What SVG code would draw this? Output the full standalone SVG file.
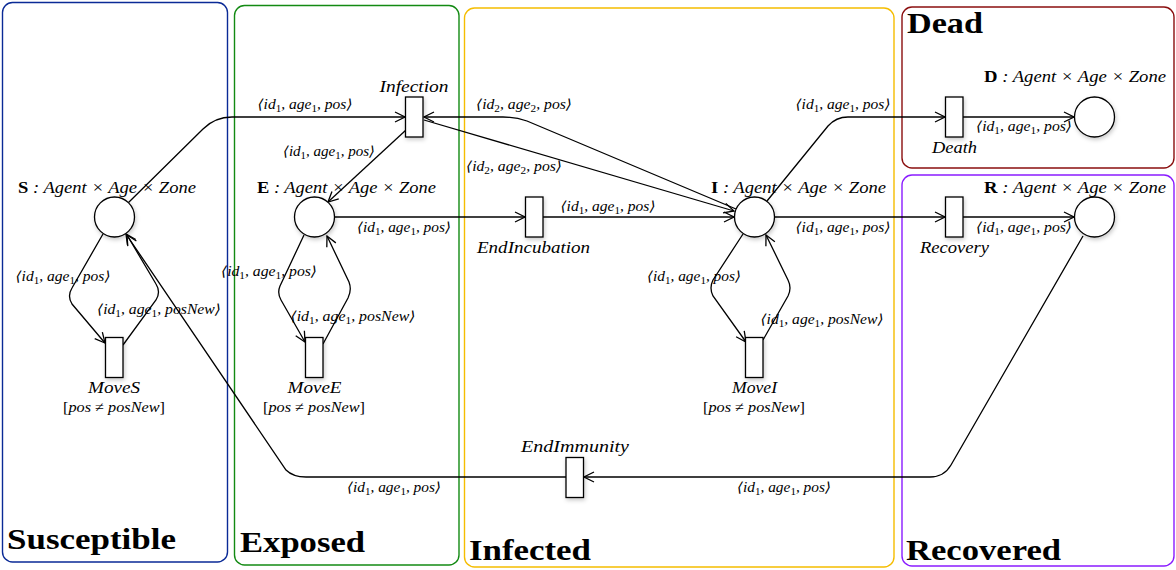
<svg xmlns="http://www.w3.org/2000/svg" width="1176" height="570" viewBox="0 0 1176 570">
<style>
.box{fill:none;stroke-width:1.4}
.title{font-family:"Liberation Serif","DejaVu Serif",serif;font-weight:bold;font-size:29px;fill:#000}
.pl{fill:#fff;stroke:#000;stroke-width:1.3;filter:url(#sh)}
.tr{fill:#fff;stroke:#000;stroke-width:1.3;filter:url(#sh)}
.ptxt{font-family:"Liberation Serif","DejaVu Serif",serif;font-style:italic;font-size:17px;fill:#000}
.b{font-style:normal;font-weight:bold}
.ttxt{font-family:"Liberation Serif","DejaVu Serif",serif;font-style:italic;font-size:16px;fill:#000;text-anchor:middle}
.guard{font-family:"Liberation Serif","DejaVu Serif",serif;font-style:italic;font-size:14px;fill:#000;text-anchor:middle}
.lab{font-family:"Liberation Serif","DejaVu Serif",serif;font-style:italic;font-size:14px;fill:#000;text-anchor:middle}
.s{font-size:10px;font-style:normal}
.arc{fill:none;stroke:#000;stroke-width:1.3;marker-end:url(#arr)}
</style>
<defs>
<filter id="sh" x="-60%" y="-60%" width="220%" height="220%">
<feDropShadow dx="1" dy="2" stdDeviation="2" flood-color="#000" flood-opacity="0.22"/>
</filter>
<marker id="arr" viewBox="-11 -6 12 12" refX="0" refY="0" markerWidth="12" markerHeight="12" markerUnits="userSpaceOnUse" orient="auto">
<path d="M-10,-5 L0,0 L-10,5" fill="none" stroke="#000" stroke-width="1.3"/>
</marker>
</defs>
<rect width="1176" height="570" fill="#fff"/>

<g id="regions">
<g id="susceptible">
<rect class="box" x="2.5" y="2.5" width="225" height="559.5" rx="10" stroke="#0a2a96"/>
<text class="title" x="7" y="549" textLength="169" lengthAdjust="spacingAndGlyphs">Susceptible</text>
</g>
<g id="exposed">
<rect class="box" x="234.5" y="5.5" width="224.5" height="559.5" rx="10" stroke="#138a13"/>
<text class="title" x="240" y="552" textLength="125" lengthAdjust="spacingAndGlyphs">Exposed</text>
</g>
<g id="infected">
<rect class="box" x="464.5" y="8" width="429.5" height="559" rx="10" stroke="#f5bd00"/>
<text class="title" x="469" y="560" textLength="122" lengthAdjust="spacingAndGlyphs">Infected</text>
</g>
<g id="dead">
<rect class="box" x="902" y="7" width="272" height="161" rx="10" stroke="#8b0f0f"/>
<text class="title" x="907" y="33" textLength="76" lengthAdjust="spacingAndGlyphs">Dead</text>
</g>
<g id="recovered">
<rect class="box" x="902" y="175" width="272" height="391" rx="10" stroke="#8a1cff"/>
<text class="title" x="906" y="560" textLength="155" lengthAdjust="spacingAndGlyphs">Recovered</text>
</g>
</g>

<g id="connectors">
<path class="arc" d="M128,203 L203,129 Q215,117 232,117 L405,117"/>
<path class="arc" d="M406,130 L328,202"/>
<path class="arc" d="M736,209 L527,121 Q516,117 503,117 L424,117"/>
<path class="arc" d="M424,120 L734,211"/>
<path class="arc" d="M334,217 L525,217"/>
<path class="arc" d="M543,217 L734,217"/>
<path class="arc" d="M767,201 L828,126 Q836,117 848,117 L945,117"/>
<path class="arc" d="M963,117 L1074,117"/>
<path class="arc" d="M774,217 L945,217"/>
<path class="arc" d="M963,217 L1074,217"/>
<path class="arc" d="M1083,236 L951,465 Q944,477 930,477 L584,477"/>
<path class="arc" d="M566,477 L306,477 Q293,477 286,470 L126,234"/>
<path class="arc" d="M103,234 L72,288 Q67,296 72,304 L105,343"/>
<path class="arc" d="M123,345 L156,300 Q161,292 156,284 L127,235"/>
<path class="arc" d="M304,235 L280,286 Q277,293 281,300 L305,342"/>
<path class="arc" d="M323,344 L348,298 Q352,290 349,282 L327,236"/>
<path class="arc" d="M743,234 L713,280 Q709,288 713,296 L746,342"/>
<path class="arc" d="M763,340 L788,296 Q792,288 788,280 L766,235"/>

<text class="lab" x="305" y="109" textLength="95" lengthAdjust="spacingAndGlyphs">⟨id<tspan class="s" dy="3">1</tspan><tspan dy="-3">, age</tspan><tspan class="s" dy="3">1</tspan><tspan dy="-3">, pos⟩</tspan></text>
<text class="lab" x="329" y="156" textLength="92" lengthAdjust="spacingAndGlyphs">⟨id<tspan class="s" dy="3">1</tspan><tspan dy="-3">, age</tspan><tspan class="s" dy="3">1</tspan><tspan dy="-3">, pos⟩</tspan></text>
<text class="lab" x="524" y="109" textLength="96" lengthAdjust="spacingAndGlyphs">⟨id<tspan class="s" dy="3">2</tspan><tspan dy="-3">, age</tspan><tspan class="s" dy="3">2</tspan><tspan dy="-3">, pos⟩</tspan></text>
<text class="lab" x="514" y="171" textLength="96" lengthAdjust="spacingAndGlyphs">⟨id<tspan class="s" dy="3">2</tspan><tspan dy="-3">, age</tspan><tspan class="s" dy="3">2</tspan><tspan dy="-3">, pos⟩</tspan></text>
<text class="lab" x="404" y="232" textLength="94" lengthAdjust="spacingAndGlyphs">⟨id<tspan class="s" dy="3">1</tspan><tspan dy="-3">, age</tspan><tspan class="s" dy="3">1</tspan><tspan dy="-3">, pos⟩</tspan></text>
<text class="lab" x="608" y="211" textLength="95" lengthAdjust="spacingAndGlyphs">⟨id<tspan class="s" dy="3">1</tspan><tspan dy="-3">, age</tspan><tspan class="s" dy="3">1</tspan><tspan dy="-3">, pos⟩</tspan></text>
<text class="lab" x="843" y="109" textLength="95" lengthAdjust="spacingAndGlyphs">⟨id<tspan class="s" dy="3">1</tspan><tspan dy="-3">, age</tspan><tspan class="s" dy="3">1</tspan><tspan dy="-3">, pos⟩</tspan></text>
<text class="lab" x="1024" y="131" textLength="96" lengthAdjust="spacingAndGlyphs">⟨id<tspan class="s" dy="3">1</tspan><tspan dy="-3">, age</tspan><tspan class="s" dy="3">1</tspan><tspan dy="-3">, pos⟩</tspan></text>
<text class="lab" x="843" y="232" textLength="95" lengthAdjust="spacingAndGlyphs">⟨id<tspan class="s" dy="3">1</tspan><tspan dy="-3">, age</tspan><tspan class="s" dy="3">1</tspan><tspan dy="-3">, pos⟩</tspan></text>
<text class="lab" x="1024" y="232" textLength="96" lengthAdjust="spacingAndGlyphs">⟨id<tspan class="s" dy="3">1</tspan><tspan dy="-3">, age</tspan><tspan class="s" dy="3">1</tspan><tspan dy="-3">, pos⟩</tspan></text>
<text class="lab" x="784" y="492" textLength="94" lengthAdjust="spacingAndGlyphs">⟨id<tspan class="s" dy="3">1</tspan><tspan dy="-3">, age</tspan><tspan class="s" dy="3">1</tspan><tspan dy="-3">, pos⟩</tspan></text>
<text class="lab" x="394" y="492" textLength="94" lengthAdjust="spacingAndGlyphs">⟨id<tspan class="s" dy="3">1</tspan><tspan dy="-3">, age</tspan><tspan class="s" dy="3">1</tspan><tspan dy="-3">, pos⟩</tspan></text>
<text class="lab" x="63" y="281" textLength="95" lengthAdjust="spacingAndGlyphs">⟨id<tspan class="s" dy="3">1</tspan><tspan dy="-3">, age</tspan><tspan class="s" dy="3">1</tspan><tspan dy="-3">, pos⟩</tspan></text>
<text class="lab" x="159" y="314" textLength="124" lengthAdjust="spacingAndGlyphs">⟨id<tspan class="s" dy="3">1</tspan><tspan dy="-3">, age</tspan><tspan class="s" dy="3">1</tspan><tspan dy="-3">, posNew⟩</tspan></text>
<text class="lab" x="269" y="276" textLength="96" lengthAdjust="spacingAndGlyphs">⟨id<tspan class="s" dy="3">1</tspan><tspan dy="-3">, age</tspan><tspan class="s" dy="3">1</tspan><tspan dy="-3">, pos⟩</tspan></text>
<text class="lab" x="353" y="321" textLength="125" lengthAdjust="spacingAndGlyphs">⟨id<tspan class="s" dy="3">1</tspan><tspan dy="-3">, age</tspan><tspan class="s" dy="3">1</tspan><tspan dy="-3">, posNew⟩</tspan></text>
<text class="lab" x="694" y="281" textLength="94" lengthAdjust="spacingAndGlyphs">⟨id<tspan class="s" dy="3">1</tspan><tspan dy="-3">, age</tspan><tspan class="s" dy="3">1</tspan><tspan dy="-3">, pos⟩</tspan></text>
<text class="lab" x="822" y="324" textLength="123" lengthAdjust="spacingAndGlyphs">⟨id<tspan class="s" dy="3">1</tspan><tspan dy="-3">, age</tspan><tspan class="s" dy="3">1</tspan><tspan dy="-3">, posNew⟩</tspan></text>
</g>

<g id="place-S">
<circle class="pl" cx="114.5" cy="217" r="20"/>
<text class="ptxt" x="18" y="193" textLength="178" lengthAdjust="spacingAndGlyphs"><tspan class="b">S</tspan> : Agent × Age × Zone</text>
</g>
<g id="place-E">
<circle class="pl" cx="314.5" cy="217" r="20"/>
<text class="ptxt" x="257" y="193" textLength="179" lengthAdjust="spacingAndGlyphs"><tspan class="b">E</tspan> : Agent × Age × Zone</text>
</g>
<g id="place-I">
<circle class="pl" cx="754.5" cy="217" r="20"/>
<text class="ptxt" x="711" y="193" textLength="175" lengthAdjust="spacingAndGlyphs"><tspan class="b">I</tspan> : Agent × Age × Zone</text>
</g>
<g id="place-D">
<circle class="pl" cx="1094.5" cy="117" r="20"/>
<text class="ptxt" x="984" y="82" textLength="182" lengthAdjust="spacingAndGlyphs"><tspan class="b">D</tspan> : Agent × Age × Zone</text>
</g>
<g id="place-R">
<circle class="pl" cx="1094.5" cy="217" r="20"/>
<text class="ptxt" x="984" y="193" textLength="182" lengthAdjust="spacingAndGlyphs"><tspan class="b">R</tspan> : Agent × Age × Zone</text>
</g>

<g id="trans-Infection">
<rect class="tr" x="405.5" y="97" width="17.5" height="40"/>
<text class="ttxt" x="414" y="92" textLength="69" lengthAdjust="spacingAndGlyphs">Infection</text>
</g>
<g id="trans-EndIncubation">
<rect class="tr" x="525.5" y="197" width="17.5" height="40"/>
<text class="ttxt" x="533.5" y="253" textLength="113" lengthAdjust="spacingAndGlyphs">EndIncubation</text>
</g>
<g id="trans-Death">
<rect class="tr" x="945.5" y="97" width="17.5" height="40"/>
<text class="ttxt" x="954.5" y="153" textLength="45" lengthAdjust="spacingAndGlyphs">Death</text>
</g>
<g id="trans-Recovery">
<rect class="tr" x="945.5" y="197" width="17.5" height="40"/>
<text class="ttxt" x="954.5" y="253" textLength="69" lengthAdjust="spacingAndGlyphs">Recovery</text>
</g>
<g id="trans-MoveS">
<rect class="tr" x="105.5" y="337.5" width="17.5" height="40"/>
<text class="ttxt" x="114" y="393" textLength="52" lengthAdjust="spacingAndGlyphs">MoveS</text>
<text class="guard" x="114" y="412" textLength="102" lengthAdjust="spacingAndGlyphs"><tspan font-style="normal">[</tspan>pos <tspan font-style="normal">≠</tspan> posNew<tspan font-style="normal">]</tspan></text>
</g>
<g id="trans-MoveE">
<rect class="tr" x="305.5" y="337.5" width="17.5" height="40"/>
<text class="ttxt" x="314.5" y="393" textLength="54" lengthAdjust="spacingAndGlyphs">MoveE</text>
<text class="guard" x="314" y="412" textLength="102" lengthAdjust="spacingAndGlyphs"><tspan font-style="normal">[</tspan>pos <tspan font-style="normal">≠</tspan> posNew<tspan font-style="normal">]</tspan></text>
</g>
<g id="trans-MoveI">
<rect class="tr" x="745.5" y="337.5" width="17.5" height="40"/>
<text class="ttxt" x="754.5" y="393" textLength="45" lengthAdjust="spacingAndGlyphs">MoveI</text>
<text class="guard" x="754" y="412" textLength="102" lengthAdjust="spacingAndGlyphs"><tspan font-style="normal">[</tspan>pos <tspan font-style="normal">≠</tspan> posNew<tspan font-style="normal">]</tspan></text>
</g>
<g id="trans-EndImmunity">
<rect class="tr" x="566" y="457.5" width="17.5" height="40"/>
<text class="ttxt" x="575" y="452" textLength="108" lengthAdjust="spacingAndGlyphs">EndImmunity</text>
</g>
</svg>
